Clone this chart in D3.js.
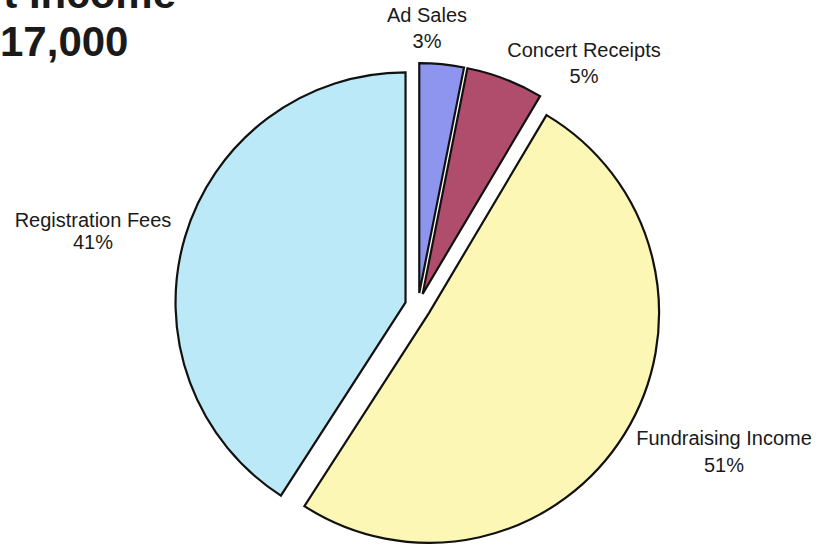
<!DOCTYPE html>
<html>
<head>
<meta charset="utf-8">
<script src="https://cdn.jsdelivr.net/npm/d3@7"></script>
<style>
  html, body { margin: 0; padding: 0; background: #ffffff; }
  svg { display: block; }
</style>
</head>
<body>
<svg id="chart" width="819" height="544"></svg>
<script>
// ---- data ----
const categories = ["Ad Sales", "Concert Receipts", "Fundraising Income", "Registration Fees"];
const amounts = [530, 920, 8600, 6950];           // estimated dollars, total 17,000
const titleLines = ["t Income", "17,000"];       // only the visible part of the cropped title

// ---- styling / layout ----
const colors = ["#8e95ee", "#b04c6c", "#fcf7b4", "#bce9f7"];
const W = 819, H = 544;
const cx = 418, cy = 306, R = 230, explode = 13;
const labelFont = "'Liberation Sans', Arial, sans-serif";
// label anchors: [center x, first baseline, line gap]
const labelPos = [
  [427, 22, 26],
  [584, 57, 26],
  [724, 445, 27],
  [93, 227, 22]
];

const svg = d3.select("#chart");
svg.append("rect").attr("width", W).attr("height", H).attr("fill", "#ffffff");

// title (cropped at the top edge like the reference)
const title = svg.append("g").attr("font-family", labelFont).attr("font-weight", "bold")
  .attr("font-size", 42).attr("fill", "#1a1a1a");
title.append("text").attr("x", 176).attr("y", 8).attr("text-anchor", "end").text(titleLines[0]);
title.append("text").attr("x", 0).attr("y", 56).attr("text-anchor", "start").text(titleLines[1]);

const data = categories.map((c, i) => ({ name: c, value: amounts[i], color: colors[i] }));
const total = d3.sum(amounts);

const pie = d3.pie().sort(null).value(d => d.value).startAngle(0).endAngle(2 * Math.PI);
const arc = d3.arc().innerRadius(0).outerRadius(R);
const arcs = pie(data);

const g = svg.append("g").attr("transform", `translate(${cx},${cy})`);
g.selectAll("path.slice")
  .data(arcs)
  .join("path")
  .attr("class", "slice")
  .attr("transform", d => {
    const mid = (d.startAngle + d.endAngle) / 2;
    return `translate(${explode * Math.sin(mid)},${-explode * Math.cos(mid)})`;
  })
  .attr("d", arc)
  .attr("fill", d => d.data.color)
  .attr("stroke", "#111111")
  .attr("stroke-width", 2.2)
  .attr("stroke-linejoin", "miter");

// labels
const lab = svg.append("g").attr("font-family", labelFont).attr("font-size", 20)
  .attr("fill", "#1a1a1a").attr("text-anchor", "middle");
arcs.forEach((d, i) => {
  const [lx, ly, gap] = labelPos[i];
  const t = lab.append("text");
  t.append("tspan").attr("x", lx).attr("y", ly).text(d.data.name);
  t.append("tspan").attr("x", lx).attr("y", ly + gap)
    .text(Math.round(d.data.value / total * 100) + "%");
});
</script>
</body>
</html>
